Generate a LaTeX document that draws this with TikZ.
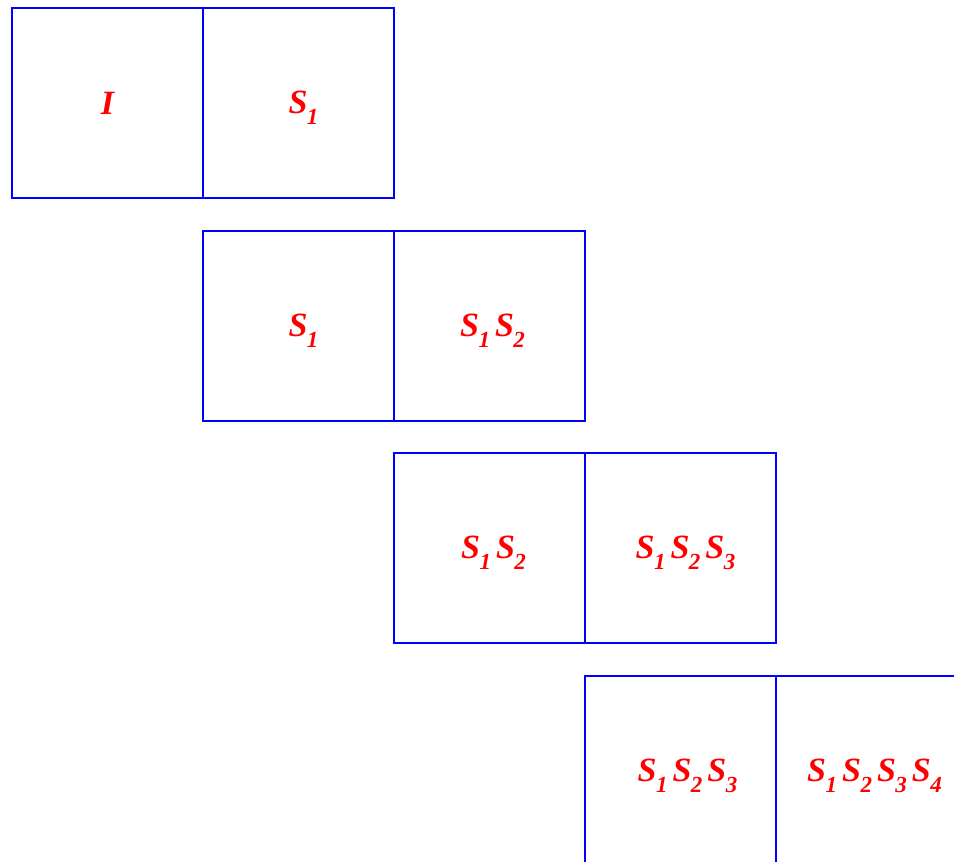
\documentclass[tikz,border=0pt]{standalone}
\usepackage{fontspec}
\setmainfont{Liberation Serif}
\newcommand\subx[1]{\raisebox{-11pt}{\fontsize{23}{23}\selectfont #1}}
\newcommand\Sx[1]{S\kern-0.5pt\subx{#1}}
\newcommand\gapx{\kern5pt}
\begin{document}
\begin{tikzpicture}[x=1pt,y=-1pt,
  cell/.style={draw=blue, line width=2.2pt, minimum width=191pt, minimum height=190pt, inner sep=0pt, outer sep=0pt, anchor=north west},
  lab/.style={text=red, font=\fontsize{34}{34}\selectfont\bfseries\itshape, anchor=base, inner sep=0pt}]
\useasboundingbox (0,0) rectangle (954,862);
\begin{scope}
\clip (0,0) rectangle (954,862);
\node[cell] (a1) at (12,8) {};
\node[cell] (b1) at (203,8) {};
\node[cell] (a2) at (203,231) {};
\node[cell] (b2) at (394,231) {};
\node[cell] (a3) at (394,453) {};
\node[cell] (b3) at (585,453) {};
\node[cell] (a4) at (585,676) {};
\node[cell] (b4) at (776,676) {};
\end{scope}
\node[lab] (ta1) at ([yshift=-11pt]a1.center) {I};
\node[lab] (tb1) at ([xshift=5pt,yshift=-10pt]b1.center) {\Sx{1}};
\node[lab] (ta2) at ([xshift=5pt,yshift=-10pt]a2.center) {\Sx{1}};
\node[lab] (tb2) at ([xshift=3pt,yshift=-10pt]b2.center) {\Sx{1}\gapx\Sx{2}};
\node[lab] (ta3) at ([xshift=4pt,yshift=-10pt]a3.center) {\Sx{1}\gapx\Sx{2}};
\node[lab] (tb3) at ([xshift=5pt,yshift=-10pt]b3.center) {\Sx{1}\gapx\Sx{2}\gapx\Sx{3}};
\node[lab] (ta4) at ([xshift=7pt,yshift=-10pt]a4.center) {\Sx{1}\gapx\Sx{2}\gapx\Sx{3}};
\node[lab] (tb4) at ([xshift=3pt,yshift=-10pt]b4.center) {\Sx{1}\gapx\Sx{2}\gapx\Sx{3}\gapx\Sx{4}};
\end{tikzpicture}
\end{document}
